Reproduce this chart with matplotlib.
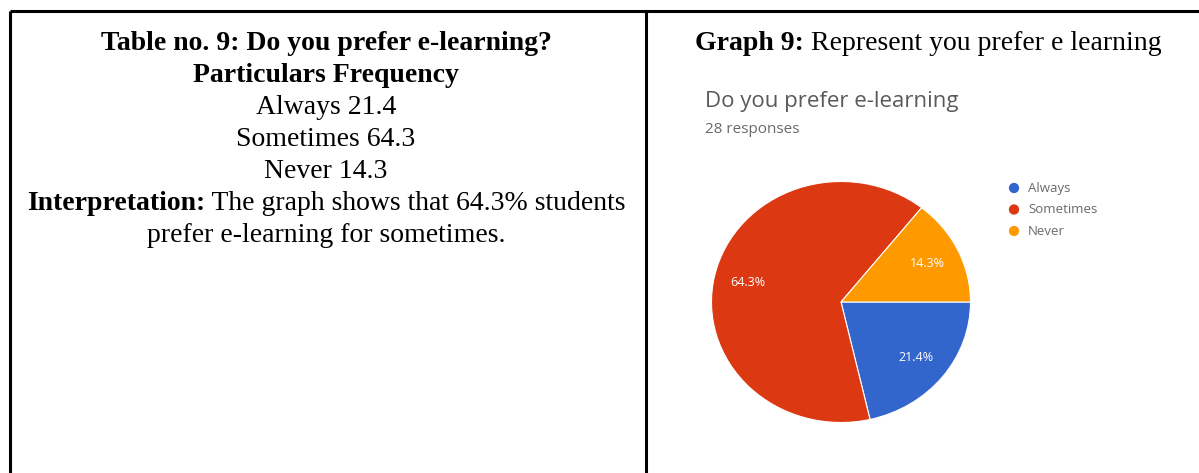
import matplotlib
matplotlib.use("Agg")
import matplotlib.pyplot as plt

# survey answers (percent of 28 responses)
categories = ["Always", "Sometimes", "Never"]
shares = [21.4, 64.3, 14.3]
colors = ["#3366CC", "#DC3912", "#FF9900"]

table_title = "Table no. 9: Do you prefer e-learning?"
table_header = "Particulars Frequency"
chart_title = "Do you prefer e-learning"
chart_subtitle = "28 responses"

W, H = 1199, 473

fig = plt.figure(figsize=(W / 100, H / 100), dpi=100)
renderer = fig.canvas.get_renderer()

# overlay in pixel units for the table frame and text
page = fig.add_axes([0, 0, 1, 1])
page.set_xlim(0, W)
page.set_ylim(H, 0)
page.axis("off")

lw = 2.2
page.plot([9.5, W], [11.5, 11.5], color="black", lw=lw, solid_capstyle="butt")
page.plot([9.5, 9.5], [11.5, H], color="black", lw=lw, solid_capstyle="butt")
page.plot([645.5, 645.5], [11.5, H], color="black", lw=lw, solid_capstyle="butt")

serif = "Liberation Serif"
fs = 20


def mixed_line(x, y, parts, align="center"):
    """Write bold/regular runs side by side on one baseline."""
    runs, widths = [], []
    for s, weight in parts:
        t = page.text(0, y, s, family=serif, fontsize=fs, weight=weight,
                      ha="left", va="baseline")
        runs.append(t)
        widths.append(t.get_window_extent(renderer).width)
    left = x - sum(widths) / 2 if align == "center" else x
    for t, w in zip(runs, widths):
        t.set_x(left)
        left += w


cx = 326
y0, step = 50, 32
mixed_line(cx, y0, [(table_title, "bold")])
mixed_line(cx, y0 + step, [(table_header, "bold")])
for i, (cat, val) in enumerate(zip(categories, shares)):
    mixed_line(cx, y0 + step * (2 + i), [(f"{cat} {val}", "normal")])
mixed_line(cx, y0 + step * 5,
           [("Interpretation:", "bold"),
            (f" The graph shows that {shares[1]}% students", "normal")])
mixed_line(cx, y0 + step * 6, [("prefer e-learning for sometimes.", "normal")])

mixed_line(695, y0, [("Graph 9:", "bold"), (" Represent you prefer e learning", "normal")],
           align="left")

# Google Forms style summary
sans = "Open Sans"
page.text(705, 107, chart_title, family=sans, fontsize=16, color="#5a5a5a",
          ha="left", va="baseline")
page.text(705, 133, chart_subtitle, family=sans, fontsize=11, color="#6a6a6a",
          ha="left", va="baseline")

for i, (cat, col) in enumerate(zip(categories, colors)):
    yy = 188 + i * 21.5
    page.scatter([1014], [yy], s=55, color=col, edgecolors="none")
    page.text(1028, yy, cat, family=sans, fontsize=9.5, color="#6a6a6a",
              ha="left", va="center")

# pie drawn as a slightly squashed ellipse
pcx, pcy, rx, ry = 841, 302, 129.5, 120.5
ax = fig.add_axes([(pcx - rx) / W, (H - pcy - ry) / H, 2 * rx / W, 2 * ry / H])
wedges, _, autotexts = ax.pie(
    shares, colors=colors, startangle=0, counterclock=False,
    autopct="%1.1f%%", pctdistance=0.74,
    wedgeprops=dict(edgecolor="white", linewidth=0.8),
    textprops=dict(color="white", fontsize=9, family=sans),
)
ax.set_aspect("auto")
ax.set_xlim(-1, 1)
ax.set_ylim(-1, 1)
ax.axis("off")

fig.savefig("out.png", dpi=100)
